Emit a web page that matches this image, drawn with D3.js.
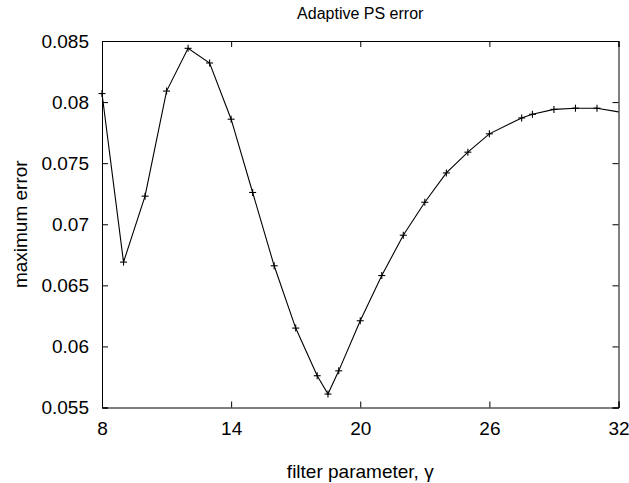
<!DOCTYPE html>
<html>
<head>
<meta charset="utf-8">
<script src="https://cdn.jsdelivr.net/npm/d3@7"></script>
<style>
html,body{margin:0;padding:0;background:#fff;}
svg{display:block;}
text{font-family:"Liberation Sans",Arial,Helvetica,sans-serif;fill:#000;}
</style>
</head>
<body>
<div id="chart"></div>
<script>
// Data
const gammaValues = [8, 9, 10, 11, 12, 13, 14, 15, 16, 17, 18, 18.5, 19, 20, 21, 22, 23, 24, 25, 26, 27.5, 28, 29, 30, 31, 32];
const maxErrorValues = [0.0807, 0.0669, 0.0723, 0.0809, 0.0844, 0.0832, 0.0786, 0.0726, 0.0666, 0.0615, 0.0576, 0.0561, 0.0580, 0.0621, 0.0658, 0.0691, 0.0718, 0.0742, 0.0759, 0.0774, 0.0787, 0.0790, 0.0794, 0.0795, 0.0795, 0.0792];
const xTicks = [8, 14, 20, 26, 32];
const yTicks = [0.055, 0.06, 0.065, 0.07, 0.075, 0.08, 0.085];
const yTickLabels = ["0.055", "0.06", "0.065", "0.07", "0.075", "0.08", "0.085"];
const titleText = "Adaptive PS error";
const xLabelText = "filter parameter, \u03B3";
const yLabelText = "maximum error";

const W = 629, H = 483;
const m = {left: 102, right: 629 - 618.5, top: 41, bottom: 483 - 407.5};
const iw = W - m.left - m.right, ih = H - m.top - m.bottom;

const svg = d3.select("#chart").append("svg").attr("width", W).attr("height", H);
const g = svg.append("g").attr("transform", `translate(${m.left},${m.top})`);

const x = d3.scaleLinear().domain([8, 32]).range([0, iw]);
const y = d3.scaleLinear().domain([0.055, 0.085]).range([ih, 0]);

const data = gammaValues.map((v, i) => ({x: v, y: maxErrorValues[i]}));
const fontSize = 19;
const tickLen = 6;

// Axes (ticks inward, mirrored)
const axB = g.append("g").attr("transform", `translate(0,${ih})`)
  .call(d3.axisBottom(x).tickValues(xTicks).tickSize(-tickLen).tickPadding(14).tickFormat(d3.format("d")));
const axT = g.append("g")
  .call(d3.axisTop(x).tickValues(xTicks).tickSize(-tickLen).tickFormat(""));
const axL = g.append("g")
  .call(d3.axisLeft(y).tickValues(yTicks).tickSize(-tickLen).tickPadding(13).tickFormat((d, i) => yTickLabels[i]));
const axR = g.append("g").attr("transform", `translate(${iw},0)`)
  .call(d3.axisRight(y).tickValues(yTicks).tickSize(-tickLen).tickFormat(""));

[axB, axT, axL, axR].forEach(a => {
  a.select(".domain").attr("stroke", "#000").attr("stroke-width", 1);
  a.selectAll(".tick line").attr("stroke", "#000");
  a.selectAll("text").attr("font-size", fontSize).attr("font-family", '"Liberation Sans",Arial,sans-serif').attr("fill", "#000");
});
axB.selectAll("text").attr("dy", "0.71em");

// Line
const line = d3.line().x(d => x(d.x)).y(d => y(d.y));
g.append("path").datum(data).attr("fill", "none").attr("stroke", "#000").attr("stroke-width", 1.1).attr("d", line);

// Markers (+) – last point at frame edge shows no marker
const ms = 3.5;
const mk = g.append("g").attr("stroke", "#000").attr("stroke-width", 1.1);
data.slice(0, -1).forEach(d => {
  const px = x(d.x), py = y(d.y);
  mk.append("line").attr("x1", px - ms).attr("x2", px + ms).attr("y1", py).attr("y2", py);
  mk.append("line").attr("x1", px).attr("x2", px).attr("y1", py - ms).attr("y2", py + ms);
});

// Titles
svg.append("text").attr("x", m.left + iw / 2).attr("y", 19).attr("text-anchor", "middle")
  .attr("font-size", 16).text(titleText);
svg.append("text").attr("x", m.left + iw / 2).attr("y", 478).attr("text-anchor", "middle")
  .attr("font-size", fontSize).text(xLabelText);
svg.append("text").attr("transform", `translate(27,${m.top + ih / 2}) rotate(-90)`).attr("text-anchor", "middle")
  .attr("font-size", fontSize).text(yLabelText);
</script>
</body>
</html>
